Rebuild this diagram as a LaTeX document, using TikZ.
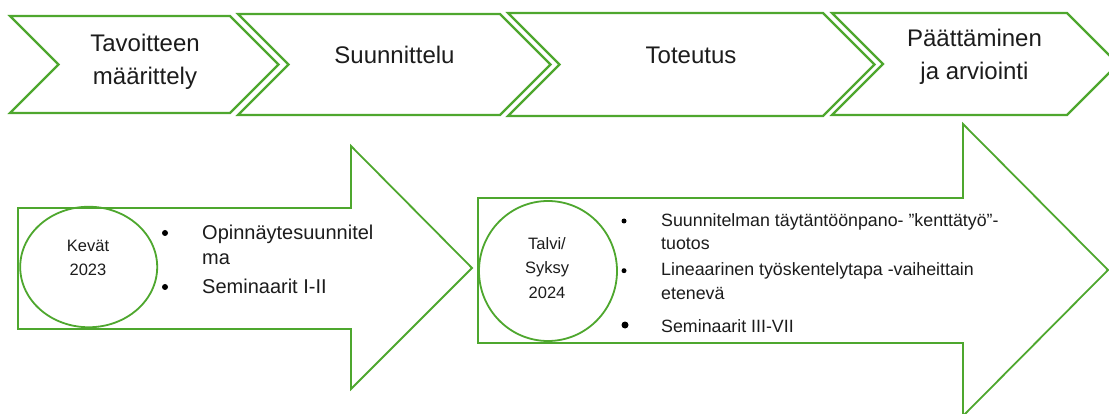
\documentclass[tikz,border=0pt]{standalone}
\usepackage{fontspec}
\setmainfont{Liberation Sans}
\usetikzlibrary{shapes.geometric}
\definecolor{grn}{RGB}{78,167,46}
\definecolor{txt}{RGB}{28,28,28}
\begin{document}
\begin{tikzpicture}[x=1pt,y=-1pt,
  chev/.style={draw=grn, line width=2.2pt, fill=white, line join=miter},
  bigarrow/.style={draw=grn, line width=1.8pt, fill=white, line join=miter},
  oval/.style={ellipse, draw=grn, line width=1.8pt, inner sep=0pt},
  toptext/.style={font=\fontsize{24}{28}\selectfont, text=txt, anchor=base, inner sep=0pt},
  yeartext/.style={font=\fontsize{16.5}{20}\selectfont, text=txt, anchor=base, inner sep=0pt},
  listA/.style={font=\fontsize{20}{24}\selectfont, text=txt, anchor=base west, inner sep=0pt},
  listB/.style={font=\fontsize{17.8}{21}\selectfont, text=txt, anchor=base west, inner sep=0pt},
  dot/.style={circle, fill=black, inner sep=0pt, minimum size=#1}
]
\useasboundingbox (0,0) rectangle (1109,414);

% top chevrons
\draw[chev] (10,16) -- (230,16) -- (278.5,64.5) -- (230,113) -- (10,113) -- (58.5,64.5) -- cycle;
\draw[chev] (238,14) -- (500,14) -- (550.5,64.5) -- (500,115) -- (238,115) -- (288.5,64.5) -- cycle;
\draw[chev] (508,13) -- (823,13) -- (874.5,64.5) -- (823,116) -- (508,116) -- (559.5,64.5) -- cycle;
\draw[chev] (832,13) -- (1067,13) -- (1118,64) -- (1067,115) -- (832,115) -- (883,64) -- cycle;

\node[toptext] (c1a) at (145,52) {Tavoitteen};
\node[toptext] (c1b) at (145,85) {määrittely};
\node[toptext] (c2) at (394.5,64) {Suunnittelu};
\node[toptext] (c3) at (691,64) {Toteutus};
\node[toptext] (c4a) at (974.5,47) {Päättäminen};
\node[toptext] (c4b) at (974.5,80) {ja arviointi};

% bottom arrows
\draw[bigarrow] (18,208) -- (351,208) -- (351,146) -- (472,268) -- (351,389) -- (351,329) -- (18,329) -- cycle;
\draw[bigarrow] (478,198) -- (963,198) -- (963,124) -- (1108,270) -- (963,416) -- (963,343) -- (478,343) -- cycle;

% ovals
\node[oval, minimum width=137pt, minimum height=120.5pt] (e1) at (88.7,267) {};
\node[oval, minimum width=138pt, minimum height=140pt] (e2) at (548,271) {};

\node[yeartext] (y1a) at (88,251.7) {Kevät};
\node[yeartext] (y1b) at (88,276) {2023};
\node[yeartext] (y2a) at (547,249.3) {Talvi/};
\node[yeartext] (y2b) at (547,273) {Syksy};
\node[yeartext] (y2c) at (547,298.3) {2024};

% list in arrow 1
\node[dot=6pt] (d1) at (165,233) {};
\node[dot=6pt] (d2) at (165,287) {};
\node[listA] (l1a) at (202,240) {Opinnäytesuunnitel};
\node[listA] (l1b) at (202,265) {ma};
\node[listA] (l1c) at (202,294) {Seminaarit I-II};

% list in arrow 2
\node[dot=5pt] (d3) at (624,221) {};
\node[dot=5pt] (d4) at (624,270.7) {};
\node[dot=7pt] (d5) at (625,325) {};
\node[listB] (l2a) at (661,226.7) {Suunnitelman täytäntöönpano- ”kenttätyö”-};
\node[listB] (l2b) at (661,250) {tuotos};
\node[listB] (l2c) at (661,276) {Lineaarinen työskentelytapa -vaiheittain};
\node[listB] (l2d) at (661,299.3) {etenevä};
\node[listB] (l2e) at (661,332.3) {Seminaarit III-VII};
\end{tikzpicture}
\end{document}
